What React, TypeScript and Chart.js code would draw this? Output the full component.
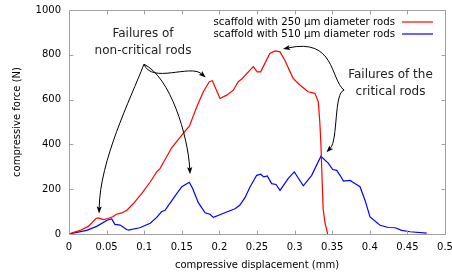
import React, { useEffect, useRef } from "react";
import { Chart, registerables } from "chart.js";

Chart.register(...registerables);

const redLabel = "scaffold with 250 µm diameter rods";
const blueLabel = "scaffold with 510 µm diameter rods";

const redX = [0, 0.0146, 0.0257, 0.0359, 0.039, 0.0457, 0.052, 0.059, 0.063, 0.07, 0.077, 0.0856, 0.0966, 0.108, 0.1166, 0.121, 0.125, 0.1365, 0.15, 0.16, 0.17, 0.1786, 0.1866, 0.1906, 0.2008, 0.2097, 0.2185, 0.225, 0.2297, 0.245, 0.2504, 0.2549, 0.267, 0.274, 0.2806, 0.287, 0.298, 0.307, 0.318, 0.327, 0.3315, 0.3335, 0.335, 0.3365, 0.338, 0.3405, 0.344];
const redY = [0, 16, 34, 69, 72, 64, 69, 78, 88, 94, 106, 136, 180, 232, 277, 292, 316, 385, 441, 481, 568, 635, 680, 684, 605, 620, 642, 680, 692, 747, 724, 724, 806, 817, 813, 776, 695, 665, 635, 628, 590, 500, 400, 250, 110, 50, 0];

const blueX = [0, 0.0235, 0.0368, 0.05, 0.0545, 0.0568, 0.061, 0.068, 0.0767, 0.079, 0.094, 0.108, 0.1166, 0.123, 0.1277, 0.139, 0.15, 0.16, 0.1644, 0.172, 0.181, 0.1875, 0.192, 0.2008, 0.2097, 0.2207, 0.227, 0.234, 0.2407, 0.2496, 0.255, 0.259, 0.2637, 0.2695, 0.2753, 0.2806, 0.2916, 0.2996, 0.3116, 0.3227, 0.335, 0.345, 0.3506, 0.356, 0.3604, 0.365, 0.3737, 0.378, 0.387, 0.3936, 0.4003, 0.4136, 0.4246, 0.4338, 0.4424, 0.4535, 0.4757];
const blueY = [0, 16, 34, 60, 66, 67, 43, 40, 20, 17, 28, 48, 74, 99, 106, 160, 211, 231, 203, 140, 95, 88, 74, 86, 98, 113, 128, 162, 210, 262, 267, 255, 259, 225, 221, 195, 248, 277, 215, 262, 347, 315, 288, 284, 262, 236, 239, 230, 211, 151, 76, 39, 29, 28, 16, 10, 4];

const xTicks = [0, 0.05, 0.1, 0.15, 0.2, 0.25, 0.3, 0.35, 0.4, 0.45, 0.5];
const yTicks = [0, 200, 400, 600, 800, 1000];

const xTitle = "compressive displacement (mm)";
const yTitle = "compressive force (N)";

const nonCriticalText = ["Failures of", "non-critical rods"];
const criticalText = ["Failures of the", "critical rods"];

// annotation geometry in data coordinates
const nonCriticalTextPos = [0.0984, 894, 818];
const criticalTextPos = [0.4275, 711, 635];
const nonCriticalOrigin = [0.0997, 758];
const criticalOrigin = [0.3657, 642];
// arrows: [control1, control2, tip]
const nonCriticalArrows = [
  [[0.0811, 598], [0.0412, 329], [0.04, 92]],
  [[0.135, 700], [0.158, 440], [0.161, 267]],
  [[0.11, 669], [0.161, 759], [0.1818, 699]],
];
const criticalArrows = [
  [[0.347, 696], [0.3537, 875], [0.2846, 826]],
  [[0.3524, 633], [0.3577, 419], [0.3424, 365]],
];

const toPts = (xs: number[], ys: number[]) => xs.map((x, i) => ({ x, y: ys[i] }));

const annotationPlugin = {
  id: "annot",
  afterDatasetsDraw(chart: any) {
    const { ctx, chartArea, scales } = chart;
    const xs = scales.x;
    const ys = scales.y;
    const px = (v: number) => xs.getPixelForValue(v);
    const py = (v: number) => ys.getPixelForValue(v);
    ctx.save();
    // frame
    ctx.strokeStyle = "#a0a0a0";
    ctx.lineWidth = 1;
    const L = Math.round(chartArea.left) + 0.5;
    const R = Math.round(chartArea.right) + 0.5;
    const T = Math.round(chartArea.top) + 0.5;
    const B = Math.round(chartArea.bottom) + 0.5;
    ctx.beginPath();
    ctx.rect(L, T, R - L, B - T);
    const tl = 4;
    xTicks.forEach((v) => {
      const x = Math.round(px(v)) + 0.5;
      ctx.moveTo(x, B);
      ctx.lineTo(x, B - tl);
      ctx.moveTo(x, T);
      ctx.lineTo(x, T + tl);
    });
    yTicks.forEach((v) => {
      const y = Math.round(py(v)) + 0.5;
      ctx.moveTo(L, y);
      ctx.lineTo(L + tl, y);
      ctx.moveTo(R, y);
      ctx.lineTo(R - tl, y);
    });
    ctx.stroke();

    // legend
    ctx.font = "10.2px 'DejaVu Sans'";
    ctx.textAlign = "right";
    ctx.textBaseline = "middle";
    chart.data.datasets.forEach((ds: any, i: number) => {
      const y = chartArea.top + 12 + i * 12;
      ctx.fillStyle = "#000";
      ctx.fillText(ds.label, chartArea.right - 50, y);
      ctx.strokeStyle = ds.borderColor;
      ctx.lineWidth = 1.2;
      ctx.beginPath();
      ctx.moveTo(chartArea.right - 43, y);
      ctx.lineTo(chartArea.right - 12, y);
      ctx.stroke();
    });

    // annotation texts
    ctx.fillStyle = "#222";
    ctx.font = "12px 'DejaVu Sans'";
    ctx.textAlign = "center";
    const drawText = (lines: string[], pos: number[]) => {
      ctx.fillText(lines[0], px(pos[0]), py(pos[1]));
      ctx.fillText(lines[1], px(pos[0]), py(pos[2]));
    };
    drawText(nonCriticalText, nonCriticalTextPos);
    drawText(criticalText, criticalTextPos);

    // arrows
    const drawArrow = (o: number[], a: number[][]) => {
      const x0 = px(o[0]), y0 = py(o[1]);
      const c1x = px(a[0][0]), c1y = py(a[0][1]);
      const c2x = px(a[1][0]), c2y = py(a[1][1]);
      const tx = px(a[2][0]), ty = py(a[2][1]);
      const ang = Math.atan2(ty - c2y, tx - c2x);
      const hl = 7, hw = 2.6;
      const bx = tx - Math.cos(ang) * hl * 0.8;
      const by = ty - Math.sin(ang) * hl * 0.8;
      ctx.strokeStyle = "#000";
      ctx.lineWidth = 1;
      ctx.beginPath();
      ctx.moveTo(x0, y0);
      ctx.bezierCurveTo(c1x, c1y, c2x, c2y, bx, by);
      ctx.stroke();
      ctx.fillStyle = "#000";
      ctx.beginPath();
      ctx.moveTo(tx, ty);
      ctx.lineTo(tx - Math.cos(ang) * hl - Math.sin(ang) * hw, ty - Math.sin(ang) * hl + Math.cos(ang) * hw);
      ctx.lineTo(bx, by);
      ctx.lineTo(tx - Math.cos(ang) * hl + Math.sin(ang) * hw, ty - Math.sin(ang) * hl - Math.cos(ang) * hw);
      ctx.closePath();
      ctx.fill();
    };
    nonCriticalArrows.forEach((a) => drawArrow(nonCriticalOrigin, a));
    criticalArrows.forEach((a) => drawArrow(criticalOrigin, a));
    ctx.restore();
  },
};

export default function App() {
  const ref = useRef<HTMLCanvasElement>(null);
  useEffect(() => {
    if (!ref.current) return;
    const tickFont = { family: "'DejaVu Sans'", size: 10 };
    const chart = new Chart(ref.current, {
      type: "line",
      data: {
        datasets: [
          { label: redLabel, data: toPts(redX, redY), borderColor: "#ff0000", borderWidth: 1.2, pointRadius: 0, tension: 0, fill: false },
          { label: blueLabel, data: toPts(blueX, blueY), borderColor: "#0000ff", borderWidth: 1.2, pointRadius: 0, tension: 0, fill: false },
        ],
      },
      options: {
        responsive: false,
        animation: false,
        events: [],
        layout: { padding: { top: 10, right: 7, left: 0, bottom: 0 } },
        plugins: { legend: { display: false }, tooltip: { enabled: false } },
        scales: {
          x: {
            type: "linear",
            min: 0,
            max: 0.5,
            afterBuildTicks: (s: any) => { s.ticks = xTicks.map((v) => ({ value: v })); },
            afterFit: (s: any) => { s.height = 42; s.paddingLeft = 0; s.paddingRight = 0; },
            grid: { display: false, drawTicks: false },
            border: { display: false },
            ticks: { font: tickFont, color: "#000", padding: 7, maxRotation: 0, autoSkip: false, callback: (v: any) => String(v) },
            title: { display: true, text: xTitle, font: tickFont, color: "#000", padding: { top: 0, bottom: 5 } },
          },
          y: {
            type: "linear",
            min: 0,
            max: 1000,
            afterBuildTicks: (s: any) => { s.ticks = yTicks.map((v) => ({ value: v })); },
            afterFit: (s: any) => { s.width = 69; s.paddingTop = 0; s.paddingBottom = 0; },
            grid: { display: false, drawTicks: false },
            border: { display: false },
            ticks: { font: tickFont, color: "#000", padding: 8, autoSkip: false, callback: (v: any) => String(v) },
            title: { display: true, text: yTitle, font: tickFont, color: "#000", padding: { top: 11, bottom: 0 } },
          },
        },
      },
      plugins: [annotationPlugin],
    });
    return () => chart.destroy();
  }, []);
  return (
    <div style={{ position: "fixed", left: 0, top: 0, width: 452, height: 276, background: "#fff" }}>
      <canvas ref={ref} width={452} height={276} style={{ display: "block" }} />
    </div>
  );
}
